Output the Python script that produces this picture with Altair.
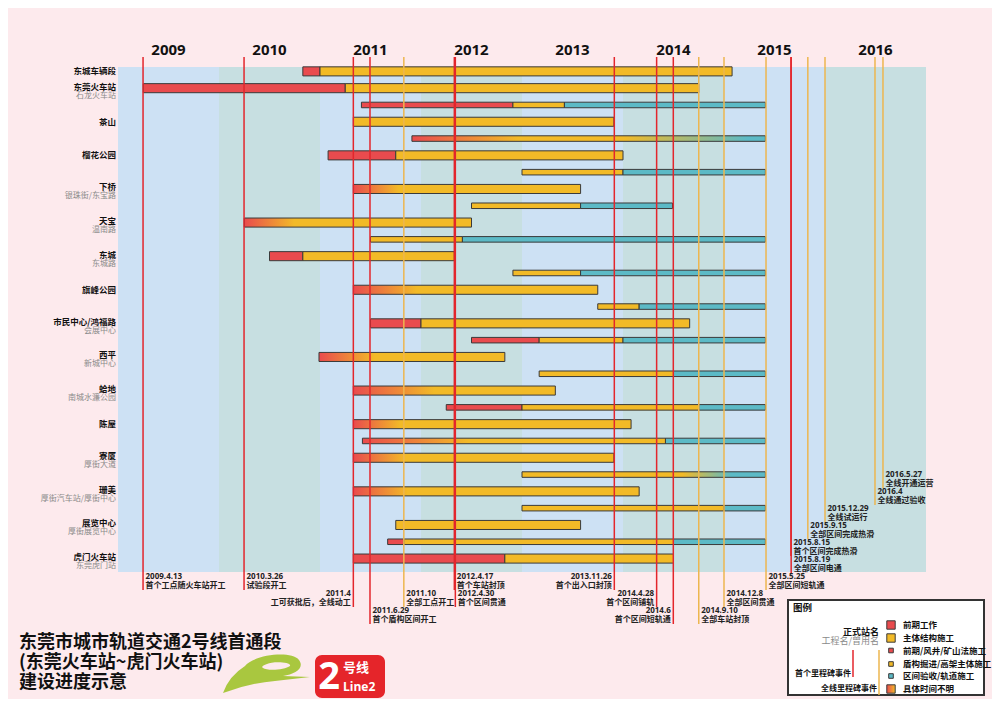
import altair as alt
import pandas as pd

# ---------------- data ----------------
years = [2009, 2010, 2011, 2012, 2013, 2014, 2015, 2016]

station_rows = [0, 1, 3, 5, 7, 9, 11, 13, 15, 17, 19, 21, 23, 25, 27, 29]
station_names = ["东城车辆段", "东莞火车站", "茶山", "榴花公园", "下桥", "天宝", "东城", "旗峰公园",
                 "市民中心/鸿福路", "西平", "蛤地", "陈屋", "寮厦", "珊美", "展览中心", "虎门火车站"]
station_alias = ["", "石龙火车站", "", "", "银珠街/东宝路", "温南路", "东城路", "",
                 "会展中心", "新城中心", "南城水濂公园", "", "厚街大道", "厚街汽车站/厚街中心", "厚街展览中心", "东莞虎门站"]

# segments: row index, start / end (decimal year), kind (r=前期, y=主体, t=区间验收/轨道, gradients = 时间不明)
seg_row = [0, 0, 1, 1, 2, 2, 2, 3, 4, 5, 5, 6, 6, 7, 8, 8, 9, 10, 10, 11, 11, 12, 12, 13, 14, 14,
           15, 15, 16, 16, 16, 17, 18, 18, 19, 20, 20, 20, 21, 22, 22, 23, 24, 25, 26, 26, 27,
           28, 28, 28, 29, 29]
seg_start = [2010.83, 2011.00, 2009.25, 2011.25, 2011.41, 2012.91, 2013.42, 2011.33, 2011.91,
             2011.08, 2011.75, 2013.00, 2014.00, 2011.33, 2012.50, 2013.58, 2010.25, 2011.50, 2012.41,
             2010.50, 2010.83, 2012.91, 2013.58, 2011.33, 2013.75, 2014.16,
             2011.50, 2012.00, 2012.50, 2013.17, 2014.00, 2010.99, 2013.17, 2014.50, 2011.33,
             2012.25, 2013.00, 2014.75, 2011.33, 2011.42, 2014.42, 2011.33, 2013.00, 2011.33,
             2013.00, 2015.00, 2011.75, 2011.67, 2011.83, 2014.50, 2011.33, 2012.83]
seg_end = [2011.00, 2015.08, 2011.25, 2014.75, 2012.91, 2013.42, 2015.41, 2013.91, 2015.41,
           2011.75, 2014.00, 2014.00, 2015.41, 2013.58, 2013.58, 2014.49, 2012.50, 2012.41, 2015.41,
           2010.83, 2012.33, 2013.58, 2015.41, 2013.75, 2014.16, 2015.41,
           2012.00, 2014.66, 2013.17, 2014.00, 2015.41, 2012.83, 2014.50, 2015.41, 2013.33,
           2013.00, 2014.75, 2015.41, 2014.08, 2014.42, 2015.41, 2013.91, 2015.41, 2014.16,
           2015.00, 2015.41, 2013.58, 2011.83, 2014.50, 2015.41, 2012.83, 2014.50]
seg_kind = ["r", "y", "r", "y", "r", "y", "t", "y", "ryt",
            "r", "y", "y", "t", "ry", "y", "t", "ry", "y", "t",
            "r", "y", "y", "t", "ry", "y", "t",
            "r", "y", "r", "y", "t", "ry", "y", "t", "ry",
            "r", "y", "t", "ry", "ry", "t", "ry", "yt", "ry",
            "y", "t", "y", "r", "y", "t", "r", "y"]
# fraction of a "time unknown" segment at which the colour change is complete
seg_fade = [0, 0, 0, 0, 0, 0, 0, 0, 0.3,
            0, 0, 0, 0, 0.20, 0, 0, 0.22, 0, 0,
            0, 0, 0, 0, 0.26, 0, 0,
            0, 0, 0, 0, 0, 0.30, 0, 0, 0.40,
            0, 0, 0, 0.17, 0.35, 0, 0.20, 0.86, 0.19,
            0, 0, 0, 0, 0, 0, 0, 0]

# milestone events
ev_pos = [2009.248, 2010.248, 2011.33, 2011.495, 2011.83, 2012.33, 2012.34, 2013.914, 2014.333,
          2014.498, 2014.75, 2015.0, 2015.416, 2015.663, 2015.665, 2015.83, 2016.0, 2016.495, 2016.574]
ev_date = ["2009.4.13", "2010.3.26", "2011.4", "2011.6.29", "2011.10", "2012.4.17", "2012.4.30",
           "2013.11.26", "2014.4.28", "2014.6", "2014.9.10", "2014.12.8", "2015.5.25", "2015.8.15",
           "2015.8.19", "2015.9.15", "2015.12.29", "2016.4", "2016.5.27"]
ev_desc = ["首个工点随火车站开工", "试验段开工", "工可获批后，全线动工", "首个盾构区间开工", "全部工点开工",
           "首个车站封顶", "首个区间贯通", "首个出入口封顶", "首个区间铺轨", "首个区间短轨通",
           "全部车站封顶", "全部区间贯通", "全部区间短轨通", "首个区间完成热滑", "全部区间电通",
           "全部区间完成热滑", "全线试运行", "全线通过验收", "全线开通运营"]
ev_kind = ["r", "r", "r", "r", "y", "r", "r", "r", "r", "r", "y", "y", "y", "r", "r", "y", "y", "y", "y"]

# ---------------- layout / style ----------------
ev_tier = [0, 0, 1, 2, 1, 0, 1, 0, 1, 2, 2, 1, 0, -2, -1, -3, -4, -5, -6]
ev_align = ["left", "left", "right", "left", "left", "left", "left", "right", "right", "right",
            "left", "left", "left", "left", "left", "left", "left", "left", "left"]

RED, YEL, TEAL = "#E94B4E", "#F2BA27", "#5CBAC6"
LRED, LYEL = "#E3262C", "#EDB64F"
EDGE = "#3a3a3a"
BG = "#FDEAED"
BAND = ["#CDE1F4", "#C7DFE1"]
FONT = "Noto Sans CJK SC"
W, H = 808, 505

xs = alt.Scale(domain=[2009, 2017], nice=False, zero=False)
ys = alt.Scale(domain=[-0.26, 29.8], nice=False, zero=False, reverse=True)


def X(f):
    return alt.X(f"{f}:Q", scale=xs, axis=None)


def Y(f):
    return alt.Y(f"{f}:Q", scale=ys, axis=None)


one = pd.DataFrame({"k": [0]})
layers = []

# year bands
df_band = pd.DataFrame({"start": years, "end": [y + 1 for y in years],
                        "c": [BAND[i % 2] for i in range(len(years))]})
layers.append(alt.Chart(df_band).mark_rect().encode(
    x=X("start"), x2="end", y=alt.value(0), y2=alt.value(H),
    color=alt.Color("c:N", scale=None)))

# bars
df_seg = pd.DataFrame({"row": seg_row, "start": seg_start, "end": seg_end,
                       "kind": seg_kind, "fade": seg_fade})
st_set = set(station_rows)
half = df_seg["row"].map(lambda r: 0.27 if r in st_set else 0.165)
df_seg["y_lo"] = df_seg["row"] - half
df_seg["y_hi"] = df_seg["row"] + half
cmap = {"r": RED, "y": YEL, "t": TEAL}
solid = df_seg[df_seg["kind"].isin(["r", "y", "t"])].copy()
solid["c"] = solid["kind"].map(cmap)
layers.append(alt.Chart(solid).mark_rect(stroke=EDGE, strokeWidth=1).encode(
    x=X("start"), x2="end", y=Y("y_lo"), y2="y_hi",
    color=alt.Color("c:N", scale=None)))


def stops_for(kind, fade):
    if kind == "ry":
        s = [(0, RED), (fade, YEL), (1, YEL)]
    elif kind == "ryt":
        s = [(0, RED), (fade, YEL), (0.6, YEL), (0.95, TEAL), (1, TEAL)]
    else:
        s = [(0, YEL), (0.66, YEL), (fade, TEAL), (1, TEAL)]
    return [alt.GradientStop(offset=o, color=c) for o, c in s]


grad = df_seg[~df_seg["kind"].isin(["r", "y", "t"])]
for _, g in grad.iterrows():
    d = pd.DataFrame([g])
    layers.append(alt.Chart(d).mark_rect(
        fill=alt.LinearGradient(gradient="linear", stops=stops_for(g["kind"], g["fade"]),
                                x1=0, x2=1, y1=0, y2=0),
        stroke=EDGE, strokeWidth=1).encode(
        x=X("start"), x2="end", y=Y("y_lo"), y2="y_hi"))

# event lines and labels
for i in range(len(ev_pos)):
    d = pd.DataFrame({"pos": [ev_pos[i]], "date": [ev_date[i]], "desc": [ev_desc[i]]})
    ty = 510 + 17 * ev_tier[i]
    col = LRED if ev_kind[i] == "r" else LYEL
    layers.append(alt.Chart(d).mark_rule(color=col, strokeWidth=1.5).encode(
        x=X("pos"), y=alt.value(-10), y2=alt.value(ty + 13)))
for i in range(len(ev_pos)):
    d = pd.DataFrame({"pos": [ev_pos[i]], "date": [ev_date[i]], "desc": [ev_desc[i]]})
    ty = 510 + 17 * ev_tier[i]
    al = ev_align[i]
    dx = 2.5 if al == "left" else -2.5
    layers.append(alt.Chart(d).mark_text(
        align=al, baseline="middle", dx=dx, fontSize=8, fontWeight="bold",
        font="Open Sans", color="#222").encode(x=X("pos"), y=alt.value(ty - 0.5), text="date:N"))
    layers.append(alt.Chart(d).mark_text(
        align=al, baseline="middle", dx=dx, fontSize=8, fontWeight="bold",
        font=FONT, color="#222").encode(x=X("pos"), y=alt.value(ty + 8.5), text="desc:N"))

# station labels
df_st = pd.DataFrame({"row": station_rows, "name": station_names, "alias": station_alias})
df_st_a = df_st[df_st["alias"] != ""]
df_st_n = df_st[df_st["alias"] == ""]
layers.append(alt.Chart(df_st_n).mark_text(
    align="right", baseline="middle", font=FONT, fontSize=8.5, fontWeight="bold",
    color="#111").encode(x=alt.value(-2), y=Y("row"), text="name:N"))
layers.append(alt.Chart(df_st_a).mark_text(
    align="right", baseline="middle", font=FONT, fontSize=8.5, fontWeight="bold", dy=-1.5,
    color="#111").encode(x=alt.value(-2), y=Y("row"), text="name:N"))
layers.append(alt.Chart(df_st_a).mark_text(
    align="right", baseline="middle", font=FONT, fontSize=8, dy=7.5,
    color="#8a8a8a").encode(x=alt.value(-2), y=Y("row"), text="alias:N"))

# year labels
df_year = pd.DataFrame({"mid": [y + 0.5 for y in years], "label": [str(y) for y in years]})
layers.append(alt.Chart(df_year).mark_text(
    font="Open Sans", fontSize=15, fontWeight="bold", baseline="middle",
    color="#111").encode(x=X("mid"), y=alt.value(-17), text="label:N"))

# title
for txt, yy in (("东莞市城市轨道交通2号线首通段", 576), ("(东莞火车站~虎门火车站)", 596),
                ("建设进度示意", 616)):
    layers.append(alt.Chart(one).mark_text(
        text=txt, align="left", baseline="middle", font=FONT, fontSize=18,
        fontWeight="bold", color="#111").encode(x=alt.value(-99), y=alt.value(yy)))

# green logo
logo = ("M -42 19 Q -36 2 -20 -8 C -12 -19 26 -24 34 -14 C 40 -6 30 0 18 2 L 45 3 L 10 7 "
        "Q -15 9 -42 19 Z M -2 -6 C 2 -3 20 -4 25 -8 C 27 -12 8 -13 2 -10 C -2 -9 -4 -7 -2 -6 Z")
layers.append(alt.Chart(one).mark_point(
    shape=logo, size=4, filled=True, fill="#A9C73F", opacity=1, strokeWidth=0).encode(
    x=alt.value(147), y=alt.value(607)))

# Line 2 badge
layers.append(alt.Chart(one).mark_rect(cornerRadius=7, color="#E5252A").encode(
    x=alt.value(197), x2=alt.value(267), y=alt.value(588), y2=alt.value(631)))
layers.append(alt.Chart(one).mark_text(
    text="2", font="Open Sans", fontSize=38, fontWeight="bold", color="white",
    baseline="middle", align="center").encode(x=alt.value(211), y=alt.value(611)))
layers.append(alt.Chart(one).mark_text(
    text="号线", font=FONT, fontSize=13, fontWeight="bold", color="white",
    baseline="middle", align="left").encode(x=alt.value(225), y=alt.value(601)))
layers.append(alt.Chart(one).mark_text(
    text="Line2", font="Open Sans", fontSize=12, fontWeight="bold", color="white",
    baseline="middle", align="left").encode(x=alt.value(225), y=alt.value(620)))

# legend box
layers.append(alt.Chart(one).mark_rect(fill="white", stroke="#333", strokeWidth=2).encode(
    x=alt.value(670), x2=alt.value(866), y=alt.value(533), y2=alt.value(628)))
layers.append(alt.Chart(one).mark_text(
    text="图例", font=FONT, fontSize=9.5, fontWeight="bold", align="left",
    baseline="middle", color="#111").encode(x=alt.value(675), y=alt.value(541)))
layers.append(alt.Chart(one).mark_text(
    text="正式站名", font=FONT, fontSize=9, fontWeight="bold", align="right",
    baseline="middle", color="#111").encode(x=alt.value(761), y=alt.value(565)))
layers.append(alt.Chart(one).mark_text(
    text="工程名/曾用名", font=FONT, fontSize=9, align="right",
    baseline="middle", color="#8a8a8a").encode(x=alt.value(761), y=alt.value(574)))
layers.append(alt.Chart(one).mark_rule(color=LRED, strokeWidth=1.5).encode(
    x=alt.value(735), y=alt.value(583), y2=alt.value(610)))
layers.append(alt.Chart(one).mark_rule(color=LYEL, strokeWidth=1.5).encode(
    x=alt.value(761), y=alt.value(583), y2=alt.value(628)))
layers.append(alt.Chart(one).mark_text(
    text="首个里程碑事件", font=FONT, fontSize=8, fontWeight="bold", align="right",
    baseline="middle", color="#111").encode(x=alt.value(733), y=alt.value(607)))
layers.append(alt.Chart(one).mark_text(
    text="全线里程碑事件", font=FONT, fontSize=8, fontWeight="bold", align="right",
    baseline="middle", color="#111").encode(x=alt.value(759), y=alt.value(622)))

leg_items = [("前期工作", RED, 558, 4.2), ("主体结构施工", YEL, 571, 4.2),
             ("前期/风井/矿山法施工", RED, 583.5, 2.3), ("盾构掘进/高架主体施工", YEL, 597, 2.3),
             ("区间验收/轨道施工", TEAL, 609, 2.3)]
for lab, col, yy, hs in leg_items:
    layers.append(alt.Chart(one).mark_rect(color=col, stroke=EDGE, strokeWidth=1).encode(
        x=alt.value(773 - hs), x2=alt.value(773 + hs), y=alt.value(yy - hs), y2=alt.value(yy + hs)))
    layers.append(alt.Chart(one).mark_text(
        text=lab, font=FONT, fontSize=8.5, fontWeight="bold", align="left",
        baseline="middle", color="#111").encode(x=alt.value(785), y=alt.value(yy)))
layers.append(alt.Chart(one).mark_rect(
    fill=alt.LinearGradient(gradient="linear", stops=[alt.GradientStop(offset=0, color=RED),
                                                      alt.GradientStop(offset=1, color=YEL)],
                            x1=0, x2=1, y1=0, y2=0),
    stroke=EDGE, strokeWidth=1).encode(
    x=alt.value(768.8), x2=alt.value(777.2), y=alt.value(617.8), y2=alt.value(626.2)))
layers.append(alt.Chart(one).mark_text(
    text="具体时间不明", font=FONT, fontSize=8.5, fontWeight="bold", align="left",
    baseline="middle", color="#111").encode(x=alt.value(785), y=alt.value(622)))

chart = alt.layer(*layers).properties(
    width=W, height=H, background=BG,
    padding={"left": 110, "top": 59, "right": 66, "bottom": 127},
    autosize=alt.AutoSizeParams(type="none"),
).configure_view(stroke=None)

chart.save("out.html", embed_options={"renderer": "svg", "actions": False})
